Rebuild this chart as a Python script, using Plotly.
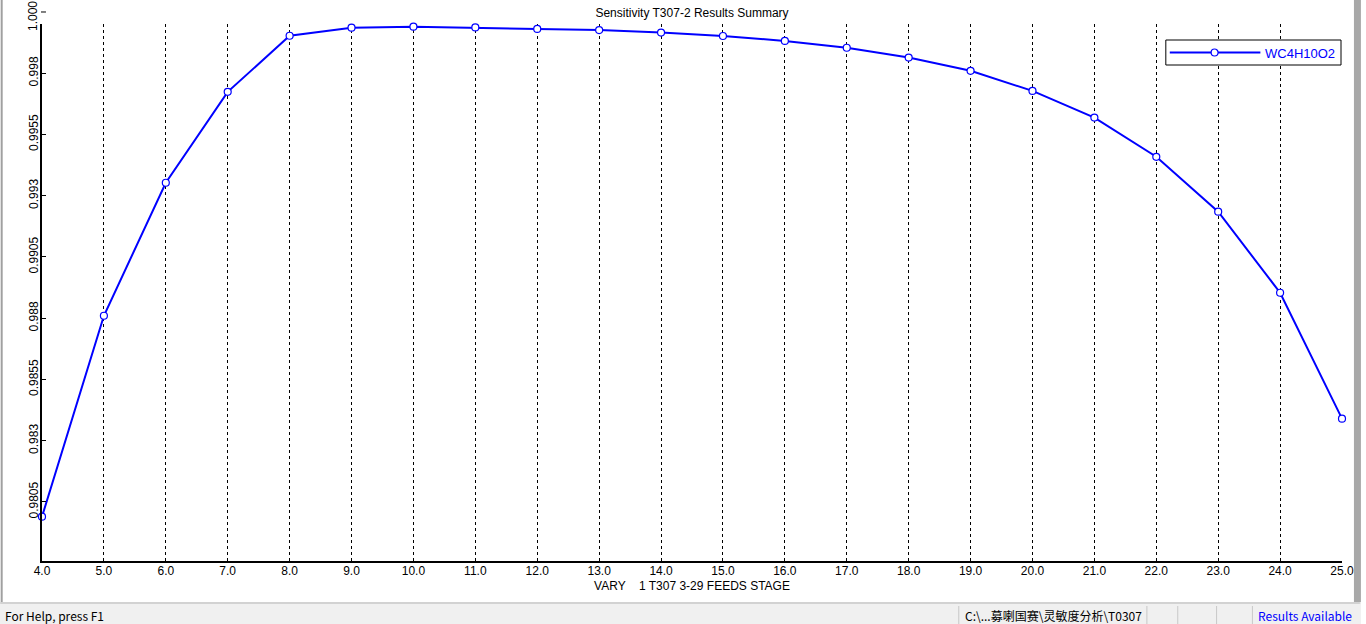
import plotly.graph_objects as go

# sensitivity results: feed stage vs WC4H10O2
stages = [4, 5, 6, 7, 8, 9, 10, 11, 12, 13, 14, 15, 16, 17, 18, 19, 20, 21, 22, 23, 24, 25]
wc4h10o2 = [0.97990, 0.98810, 0.99353, 0.99724, 0.99953, 0.99986, 0.99990, 0.99987,
            0.99981, 0.99976, 0.99966, 0.99952, 0.99932, 0.99904, 0.99864, 0.99810,
            0.99728, 0.99619, 0.99459, 0.99235, 0.98904, 0.98390]

y_tick_vals = [0.9805, 0.983, 0.9855, 0.988, 0.9905, 0.993, 0.9955, 0.998, 1.0005]
y_tick_text = ['0.9805', '0.983', '0.9855', '0.988', '0.9905', '0.993', '0.9955', '0.998', '1.000']

title = 'Sensitivity T307-2 Results Summary'
x_title = 'VARY\u00a0\u00a0\u00a0 1 T307 3-29 FEEDS STAGE'
series_name = 'WC4H10O2'

W, H = 1366, 624
L, R, T, B = 42, 18, 24, 63
y_range = [0.97809, 1.00001]
x_range = [4, 25]
BLUE = '#0000ff'
FONT = 'Liberation Sans, Arial, sans-serif'


def px(x):
    return (x - L) / (W - L - R)


def py(y):
    return (H - B - y) / (H - T - B)


def yval(v):
    return (v - y_range[0]) / (y_range[1] - y_range[0])


fig = go.Figure()
fig.add_trace(go.Scatter(
    x=stages, y=wc4h10o2, mode='lines+markers', name=series_name,
    line=dict(color=BLUE, width=2),
    marker=dict(symbol='circle', size=7, color='white', line=dict(color=BLUE, width=1.2)),
    cliponaxis=False, showlegend=False))

in_range = [i for i, v in enumerate(y_tick_vals) if y_range[0] <= v <= y_range[1]]

shapes = []
annotations = []

# tick labels that sit above the plot frame
for v, t in zip(y_tick_vals, y_tick_text):
    if v > y_range[1]:
        annotations.append(dict(x=px(33), y=yval(v), xref='paper', yref='paper', text=t,
                                xanchor='center', yanchor='middle', yshift=-4, textangle=-90,
                                showarrow=False, font=dict(size=12, color='black', family=FONT)))
        shapes.append(dict(type='line', xref='paper', yref='paper', x0=px(41), x1=px(46),
                           y0=yval(v), y1=yval(v), line=dict(color='black', width=1)))

# legend box
shapes += [
    dict(type='rect', xref='paper', yref='paper', x0=px(1171), x1=px(1347), y0=py(40), y1=py(65),
         line=dict(color='black', width=1), fillcolor='white'),
    dict(type='line', xref='paper', yref='paper', x0=px(1175), x1=px(1266), y0=py(52.5), y1=py(52.5),
         line=dict(color=BLUE, width=2)),
    dict(type='circle', xref='paper', yref='paper', x0=px(1216.5), x1=px(1223.5), y0=py(49), y1=py(56),
         line=dict(color=BLUE, width=1.2), fillcolor='white'),
]
annotations.append(dict(x=px(1269), y=py(53), xref='paper', yref='paper', text=series_name,
                        xanchor='left', yanchor='middle', showarrow=False,
                        font=dict(size=13, color=BLUE, family=FONT)))

# window frame and status bar
shapes += [
    dict(type='line', xref='paper', yref='paper', x0=px(1.5), x1=px(1.5), y0=py(0), y1=py(603),
         line=dict(color='#a0a0a0', width=2)),
    dict(type='rect', xref='paper', yref='paper', x0=px(1360), x1=px(1367), y0=py(0), y1=py(604),
         line=dict(width=0), fillcolor='#a8a8a8'),
    dict(type='rect', xref='paper', yref='paper', x0=px(-1), x1=px(1367), y0=py(602), y1=py(625),
         line=dict(width=0), fillcolor='#f0f0f0'),
    dict(type='line', xref='paper', yref='paper', x0=px(0), x1=px(1366), y0=py(603), y1=py(603),
         line=dict(color='#b4b4b4', width=1)),
]
for sx in [963, 1152, 1183, 1222, 1258]:
    shapes.append(dict(type='line', xref='paper', yref='paper', x0=px(sx), x1=px(sx), y0=py(606), y1=py(624),
                       line=dict(color='#c8c8c8', width=1)))

status_font = 'Noto Sans CJK SC, Noto Sans, sans-serif'
for sx, txt, col in [(3, 'For Help, press F1', 'black'),
                     (967, 'C:\\...募喇国赛\\灵敏度分析\\T0307', 'black'),
                     (1262, 'Results Available', BLUE)]:
    annotations.append(dict(x=px(sx), y=py(615), xref='paper', yref='paper', text=txt,
                            xanchor='left', yanchor='middle', showarrow=False,
                            font=dict(size=12, color=col, family=status_font)))

fig.update_layout(
    width=W, height=H,
    margin=dict(l=L, r=R, t=T, b=B, pad=0),
    paper_bgcolor='white', plot_bgcolor='white',
    font=dict(family=FONT, size=12, color='black'),
    title=dict(text=title, x=px(695), xref='paper', xanchor='center', y=1 - 13 / H, yref='container',
               yanchor='middle', font=dict(size=12, color='black', family=FONT)),
    xaxis=dict(range=x_range, tickvals=stages, tickformat='.1f', showgrid=True,
               gridcolor='black', gridwidth=1, griddash='3px,3px', zeroline=False,
               showline=True, linecolor='black', linewidth=1.5, ticks='', ticklen=0,
               ticklabelstandoff=-2, tickfont=dict(size=12, color='black'),
               title=dict(text=x_title, standoff=4, font=dict(size=12, color='black'))),
    yaxis=dict(range=y_range, tickvals=[y_tick_vals[i] for i in in_range],
               ticktext=[y_tick_text[i] for i in in_range], tickangle=-90,
               showgrid=False, zeroline=False, showline=True, linecolor='black', linewidth=1.5,
               ticks='inside', ticklen=4, tickcolor='black', ticklabelstandoff=-3,
               tickfont=dict(size=12, color='black')),
    shapes=shapes, annotations=annotations,
    hovermode=False,
)

fig.write_html("out.html", config={'displayModeBar': False},
               post_script="document.body.style.margin='0';document.body.style.overflow='hidden';")
